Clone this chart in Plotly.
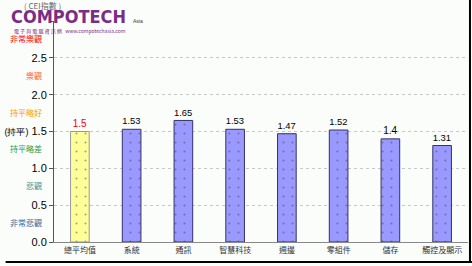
import plotly.graph_objects as go

categories = ["總平均值", "系統", "通訊", "智慧科技", "週邊", "零組件", "儲存", "觸控及顯示"]
values = [1.5, 1.53, 1.65, 1.53, 1.47, 1.52, 1.4, 1.31]
value_labels = ["1.5", "1.53", "1.65", "1.53", "1.47", "1.52", "1.4", "1.31"]
tick_vals = [0, 0.5, 1.0, 1.5, 2.0, 2.5, 3.0]
tick_text = ["0.0", "0.5", "1.0", "<span style='font-size:9px'>(持平)</span> 1.5", "2.0", "2.5", ""]
band_pos = [2.75, 2.25, 1.75, 1.25, 0.75, 0.25]
band_text = ["非常樂觀", "樂觀", "持平略好", "持平略差", "悲觀", "非常悲觀"]
band_colors = ["#FF0000", "#FF6633", "#FF9900", "#339933", "#339999", "#336699"]

bar_colors = ["#FFFF99"] + ["#9999FF"] * 7
line_colors = ["#999999"] + ["#333366"] * 7
pattern_fg = ["#BBBB77"] + ["#5555CC"] * 7
text_colors = ["#FF0000"] + ["#000000"] * 7

fig = go.Figure()
fig.add_trace(go.Bar(
    x=categories, y=values, width=0.36,
    marker=dict(color=bar_colors, line=dict(color=line_colors, width=1),
                pattern=dict(shape=".", fgcolor=pattern_fg, size=9, solidity=0.04)),
    text=value_labels, textposition="outside", cliponaxis=False,
    textfont=dict(family="Liberation Sans", size=10, color=text_colors),
))

W, H = 419, 221
annotations = []
for p, t, c in zip(band_pos, band_text, band_colors):
    annotations.append(dict(x=0, xref="paper", y=p, yref="y", text=t, showarrow=False,
                            xanchor="right", xshift=-10, yshift=1,
                            font=dict(size=8, color=c, family="Noto Sans CJK TC")))
annotations += [
    dict(x=-49/W + 17/W, xref="paper", y=1 + 16/H, yref="paper", text="( CEI指數 )",
         showarrow=False, xanchor="left", yanchor="middle",
         font=dict(size=8, color="#666666", family="Noto Sans CJK TC")),
    dict(x=-49/W + 3/W, xref="paper", y=1 + 5/H, yref="paper", text="<b>COMPOTECH</b>",
         showarrow=False, xanchor="left", yanchor="middle",
         font=dict(size=18, color="#7B2D84", family="DejaVu Sans Condensed")),
    dict(x=-49/W + 127/W, xref="paper", y=1 - 0/H, yref="paper", text="Asia",
         showarrow=False, xanchor="left", yanchor="middle",
         font=dict(size=5, color="#333333", family="Liberation Sans")),
    dict(x=-49/W + 6/W, xref="paper", y=1 - 10/H, yref="paper",
         text="電 子 與 電 腦 資 訊 網   www.compotechasia.com",
         showarrow=False, xanchor="left", yanchor="middle",
         font=dict(size=5, color="#7B2D84", family="Noto Sans CJK TC")),
]

fig.update_layout(
    width=472, height=266,
    margin=dict(l=49, r=4, t=21, b=24),
    paper_bgcolor="#FBFDFB", plot_bgcolor="#FBFDFB",
    showlegend=False,
    annotations=annotations,
    font=dict(family="Liberation Sans"),
    shapes=[
        dict(type="line", xref="paper", yref="paper", x0=-49/W, x1=1 + 4/W, y0=-20/H, y1=-20/H,
             line=dict(color="#000000", width=2)),
        dict(type="line", xref="paper", yref="paper", x0=1 + 2/W, x1=1 + 2/W, y0=-20/H, y1=1 + 21/H,
             line=dict(color="#000000", width=2)),
    ],
)
fig.update_xaxes(showgrid=False, showline=True, linecolor="#888888", linewidth=1,
                 ticks="", tickfont=dict(size=8, color="#333333", family="Noto Sans CJK TC"))
fig.update_yaxes(range=[0, 3], tickvals=tick_vals, ticktext=tick_text,
                 showgrid=True, gridcolor="#C8C8C8", griddash="dot", gridwidth=1,
                 showline=True, linecolor="#555555", linewidth=1,
                 ticks="outside", ticklen=4, tickcolor="#555555",
                 tickfont=dict(size=11, color="#000000", family="Liberation Sans"),
                 zeroline=False)

fig.write_html("out.html")
